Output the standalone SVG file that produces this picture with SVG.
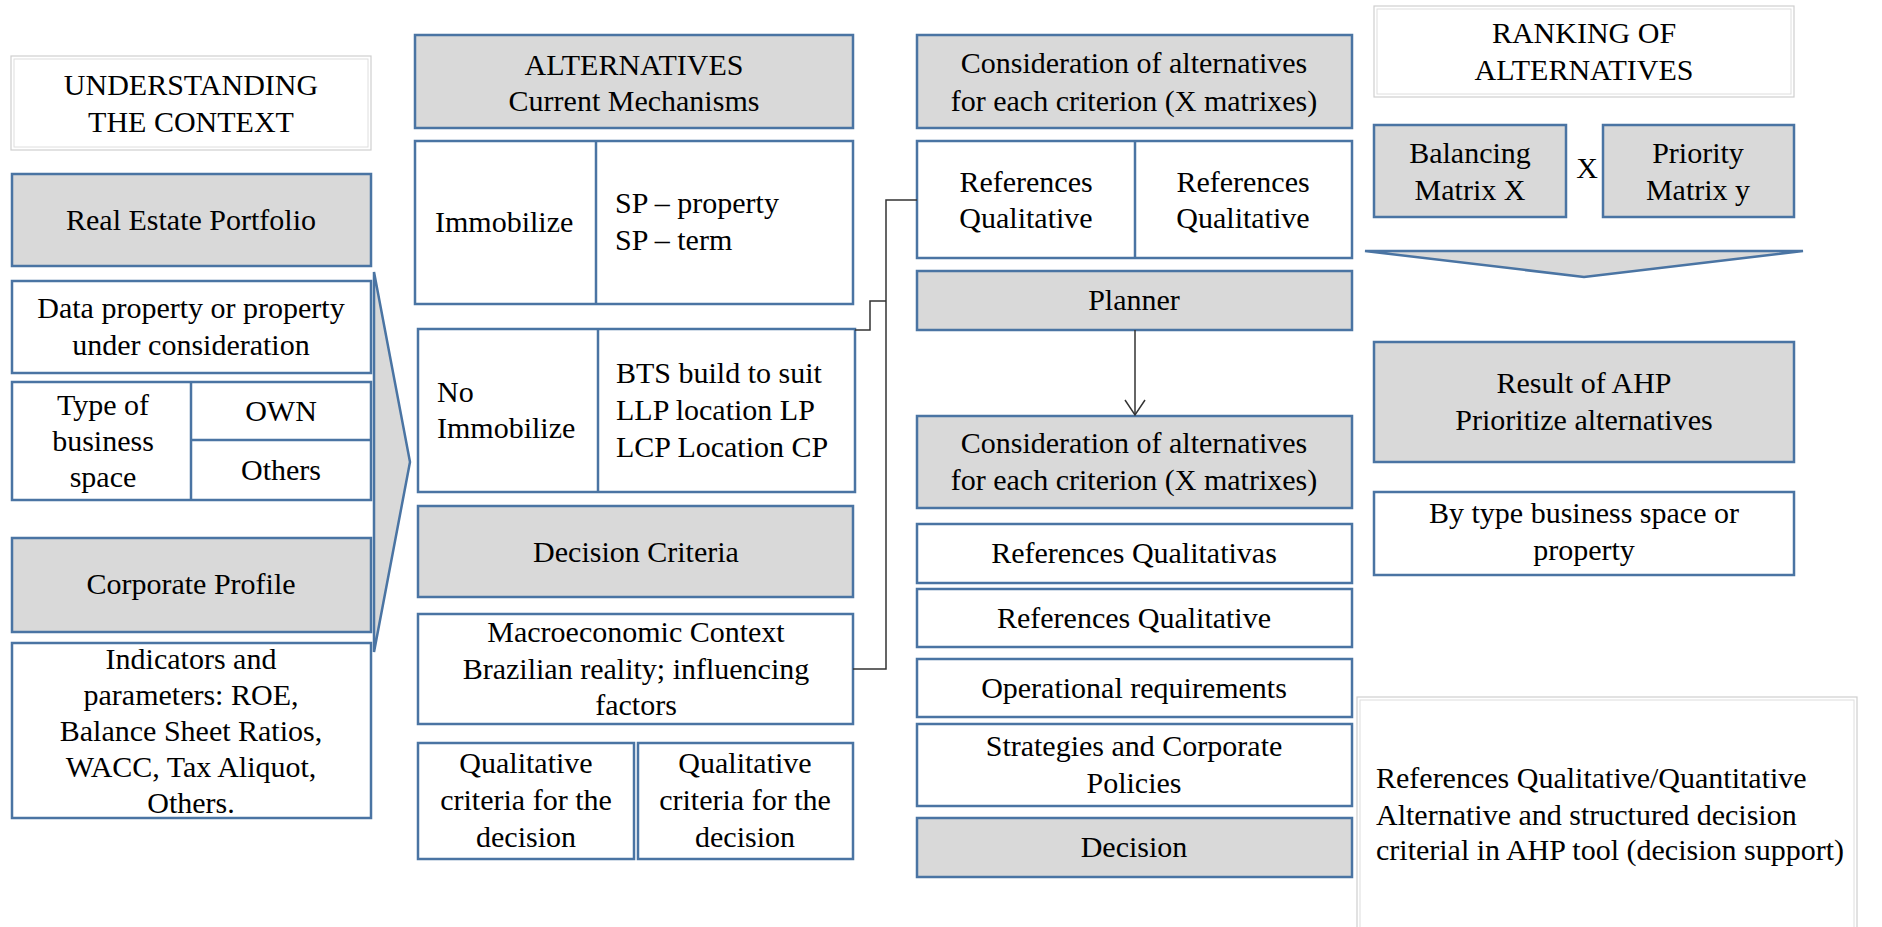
<svg xmlns="http://www.w3.org/2000/svg" width="1882" height="927" viewBox="0 0 1882 927">
<defs>
<style>
text{font-family:"Liberation Serif","Times New Roman",serif;font-size:30px;fill:#000}
.c{text-anchor:middle}
.box{fill:#fff;stroke:#4a74a3;stroke-width:2.5}
.g{fill:#d9d9d9;stroke:#4a74a3;stroke-width:2.5}
.ln{fill:none;stroke:#4a74a3;stroke-width:2.5}
.lt{fill:#fff;stroke:#cfcfcf;stroke-width:1.2}
.lt2{fill:none;stroke:#dedede;stroke-width:1}
.conn{fill:none;stroke:#333;stroke-width:1.5}
</style>
</defs>
<rect width="1882" height="927" fill="#fff"/>

<!-- Column 1 -->
<g id="understanding">
<rect class="lt" x="11" y="56" width="360" height="94"/>
<rect class="lt2" x="14" y="59" width="354" height="88"/>
<text class="c" x="191" y="95">UNDERSTANDING</text>
<text class="c" x="191" y="132">THE CONTEXT</text>
</g>
<g id="real-estate">
<rect class="g" x="12" y="174" width="359" height="92"/>
<text class="c" x="191" y="230">Real Estate Portfolio</text>
</g>
<g id="data-property">
<rect class="box" x="12" y="281" width="359" height="92"/>
<text class="c" x="191" y="318">Data property or property</text>
<text class="c" x="191" y="355">under consideration</text>
</g>
<g id="type-business">
<rect class="box" x="12" y="382" width="359" height="118"/>
<line class="ln" x1="191" y1="382" x2="191" y2="500"/>
<line class="ln" x1="191" y1="440" x2="371" y2="440"/>
<text class="c" x="103" y="415">Type of</text>
<text class="c" x="103" y="451">business</text>
<text class="c" x="103" y="487">space</text>
<text class="c" x="281" y="421">OWN</text>
<text class="c" x="281" y="480">Others</text>
</g>
<g id="corporate-profile">
<rect class="g" x="12" y="538" width="359" height="94"/>
<text class="c" x="191" y="594">Corporate Profile</text>
</g>
<g id="indicators">
<rect class="box" x="12" y="643" width="359" height="175"/>
<text class="c" x="191" y="669">Indicators and</text>
<text class="c" x="191" y="705">parameters: ROE,</text>
<text class="c" x="191" y="741">Balance Sheet Ratios,</text>
<text class="c" x="191" y="777">WACC, Tax Aliquot,</text>
<text class="c" x="191" y="813">Others.</text>
</g>
<g id="chevron-right">
<polygon class="g" points="374,272 410,462 374,652"/>
</g>

<!-- Column 2 -->
<g id="alternatives">
<rect class="g" x="415" y="35" width="438" height="93"/>
<text class="c" x="634" y="75">ALTERNATIVES</text>
<text class="c" x="634" y="111">Current Mechanisms</text>
</g>
<g id="immobilize">
<rect class="box" x="415" y="141" width="438" height="163"/>
<line class="ln" x1="596" y1="141" x2="596" y2="304"/>
<text x="435" y="232">Immobilize</text>
<text x="615" y="213">SP – property</text>
<text x="615" y="250">SP – term</text>
</g>
<g id="no-immobilize">
<rect class="box" x="418" y="329" width="437" height="163"/>
<line class="ln" x1="598" y1="329" x2="598" y2="492"/>
<text x="437" y="402">No</text>
<text x="437" y="438">Immobilize</text>
<text x="616" y="383">BTS build to suit</text>
<text x="616" y="420">LLP location LP</text>
<text x="616" y="457">LCP Location CP</text>
</g>
<g id="decision-criteria">
<rect class="g" x="418" y="506" width="435" height="91"/>
<text class="c" x="636" y="562">Decision Criteria</text>
</g>
<g id="macroeconomic">
<rect class="box" x="418" y="614" width="435" height="110"/>
<text class="c" x="636" y="642">Macroeconomic Context</text>
<text class="c" x="636" y="679">Brazilian reality; influencing</text>
<text class="c" x="636" y="715">factors</text>
</g>
<g id="qualitative-left">
<rect class="box" x="418" y="743" width="216" height="116"/>
<text class="c" x="526" y="773">Qualitative</text>
<text class="c" x="526" y="810">criteria for the</text>
<text class="c" x="526" y="847">decision</text>
</g>
<g id="qualitative-right">
<rect class="box" x="638" y="743" width="215" height="116"/>
<text class="c" x="745" y="773">Qualitative</text>
<text class="c" x="745" y="810">criteria for the</text>
<text class="c" x="745" y="847">decision</text>
</g>

<!-- Column 3 -->
<g id="consideration-1">
<rect class="g" x="917" y="35" width="435" height="93"/>
<text class="c" x="1134" y="73">Consideration of alternatives</text>
<text class="c" x="1134" y="111">for each criterion (X matrixes)</text>
</g>
<g id="references-table">
<rect class="box" x="917" y="141" width="435" height="117"/>
<line class="ln" x1="1135" y1="141" x2="1135" y2="258"/>
<text class="c" x="1026" y="192">References</text>
<text class="c" x="1026" y="228">Qualitative</text>
<text class="c" x="1243" y="192">References</text>
<text class="c" x="1243" y="228">Qualitative</text>
</g>
<g id="planner">
<rect class="g" x="917" y="271" width="435" height="59"/>
<text class="c" x="1134" y="310">Planner</text>
</g>
<g id="consideration-2">
<rect class="g" x="917" y="416" width="435" height="92"/>
<text class="c" x="1134" y="453">Consideration of alternatives</text>
<text class="c" x="1134" y="490">for each criterion (X matrixes)</text>
</g>
<g id="refs-qualitativas">
<rect class="box" x="917" y="524" width="435" height="59"/>
<text class="c" x="1134" y="563">References Qualitativas</text>
</g>
<g id="refs-qualitative">
<rect class="box" x="917" y="589" width="435" height="58"/>
<text class="c" x="1134" y="628">References Qualitative</text>
</g>
<g id="operational">
<rect class="box" x="917" y="659" width="435" height="58"/>
<text class="c" x="1134" y="698">Operational requirements</text>
</g>
<g id="strategies">
<rect class="box" x="917" y="724" width="435" height="82"/>
<text class="c" x="1134" y="756">Strategies and Corporate</text>
<text class="c" x="1134" y="793">Policies</text>
</g>
<g id="decision">
<rect class="g" x="917" y="818" width="435" height="59"/>
<text class="c" x="1134" y="857">Decision</text>
</g>

<!-- Column 4 -->
<g id="ranking">
<rect class="lt" x="1374" y="6" width="420" height="91"/>
<rect class="lt2" x="1377" y="9" width="414" height="85"/>
<text class="c" x="1584" y="43">RANKING OF</text>
<text class="c" x="1584" y="80">ALTERNATIVES</text>
</g>
<g id="balancing">
<rect class="g" x="1374" y="125" width="192" height="92"/>
<text class="c" x="1470" y="163">Balancing</text>
<text class="c" x="1470" y="200">Matrix X</text>
</g>
<g id="times-sign">
<text class="c" x="1587" y="178">X</text>
</g>
<g id="priority">
<rect class="g" x="1603" y="125" width="191" height="92"/>
<text class="c" x="1698" y="163">Priority</text>
<text class="c" x="1698" y="200">Matrix y</text>
</g>
<g id="chevron-down">
<polygon class="g" points="1365,251 1803,251 1584,277"/>
</g>
<g id="result-ahp">
<rect class="g" x="1374" y="342" width="420" height="120"/>
<text class="c" x="1584" y="393">Result of AHP</text>
<text class="c" x="1584" y="430">Prioritize alternatives</text>
</g>
<g id="by-type">
<rect class="box" x="1374" y="492" width="420" height="83"/>
<text class="c" x="1584" y="523">By type business space or</text>
<text class="c" x="1584" y="560">property</text>
</g>
<g id="references-note">
<rect class="lt" x="1357" y="697" width="500" height="240"/>
<rect class="lt2" x="1360" y="700" width="494" height="240"/>
<text x="1376" y="788">References Qualitative/Quantitative</text>
<text x="1376" y="825">Alternative and structured decision</text>
<text x="1376" y="860">criterial in AHP tool (decision support)</text>
</g>

<!-- Connectors -->
<g id="connectors">
<polyline class="conn" points="853,669 886,669 886,200 917,200"/>
<polyline class="conn" points="855,330 870,330 870,301 886,301"/>
<line class="conn" x1="1135" y1="330" x2="1135" y2="415"/>
<polyline class="conn" points="1125,400 1135,415 1145,400"/>
</g>
</svg>
